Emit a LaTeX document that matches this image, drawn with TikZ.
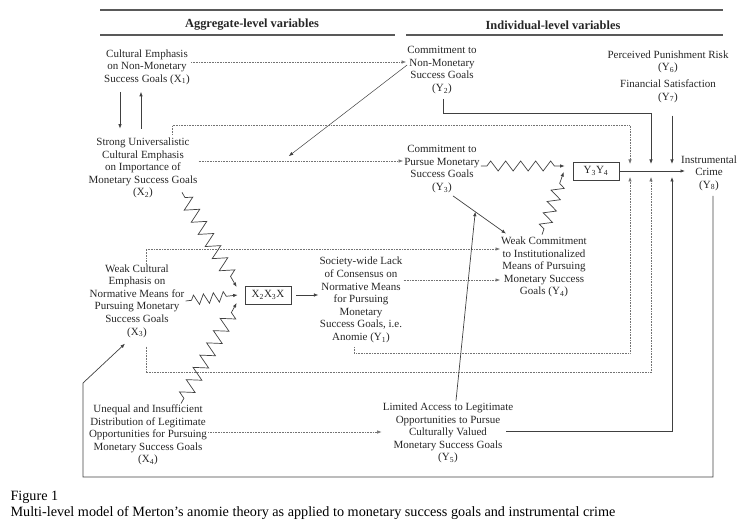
\documentclass[tikz,border=0pt]{standalone}
\usepackage{fontspec}
\setmainfont{Liberation Serif}
\usetikzlibrary{arrows.meta,calc,decorations.pathmorphing,positioning}

\begin{document}
\begin{tikzpicture}[x=1pt, y=-1pt,
  var/.style = {align=center, inner sep=1pt, font=\fontsize{11}{12.6}\selectfont, text=black!85},
  prodbox/.style = {draw=black!75, line width=0.7pt, minimum width=46pt, minimum height=18pt, inner sep=1pt, font=\fontsize{11}{12.6}\selectfont, text=black!85},
  head/.style = {font=\bfseries\fontsize{12.4}{14}\selectfont, text=black!85},
  rule/.style = {draw=black!65, line width=1.1pt},
  solidarrow/.style = {draw=black!75, line width=0.7pt, -{Latex[length=4.5pt,width=3.5pt]}},
  dotarrow/.style = {draw=black!55, densely dotted, line width=0.6pt, -{Latex[length=4.5pt,width=3.5pt]}},
  zz/.style 2 args = {decorate, decoration={zigzag, segment length=#1, amplitude=#2, pre length=6pt, post length=9pt}}]
\useasboundingbox (0,0) rectangle (742,526);
\draw[rule] (100,10) -- (723,10);
\draw[rule] (100,35) -- (395,35);
\draw[rule] (406,35) -- (723,35);
\node[head] (agg) at (252,25) {Aggregate-level variables};
\node[head] (ind) at (553,25) {Individual-level variables};
\node[var] (x1) at (147,67) {Cultural Emphasis\\on Non-Monetary\\Success Goals (X\textsubscript{1})};
\node[var] (x2) at (143,168) {Strong Universalistic\\Cultural Emphasis\\on Importance of\\Monetary Success Goals\\(X\textsubscript{2})};
\node[var] (x3) at (137,301) {Weak Cultural\\Emphasis on\\Normative Means for\\Pursuing Monetary\\Success Goals\\(X\textsubscript{3})};
\node[var] (x4) at (148,435) {Unequal and Insufficient\\Distribution of Legitimate\\Opportunities for Pursuing\\Monetary Success Goals\\(X\textsubscript{4})};
\node[prodbox] (box1) at (268,295) {X\textsubscript{2}X\textsubscript{3}X};
\node[var] (y1) at (361,300) {Society-wide Lack\\of Consensus on\\Normative Means\\for Pursuing\\Monetary\\Success Goals, i.e.\\Anomie (Y\textsubscript{1})};
\node[var] (y2) at (442,70) {Commitment to\\Non-Monetary\\Success Goals\\(Y\textsubscript{2})};
\node[var] (y3) at (442,169) {Commitment to\\Pursue Monetary\\Success Goals\\(Y\textsubscript{3})};
\node[var] (y4) at (544,267) {Weak Commitment\\to Institutionalized\\Means of Pursuing\\Monetary Success\\Goals (Y\textsubscript{4})};
\node[var] (y5) at (448,433) {Limited Access to Legitimate\\Opportunities to Pursue\\Culturally Valued\\Monetary Success Goals\\(Y\textsubscript{5})};
\node[var] (y6) at (668,62) {Perceived Punishment Risk\\(Y\textsubscript{6})};
\node[var] (y7) [below=4pt of y6] {Financial Satisfaction\\(Y\textsubscript{7})};
\node[prodbox] (box2) at (596,171) {Y\textsubscript{3}Y\textsubscript{4}};
\node[var] (y8) at (709,173) {Instrumental\\Crime\\(Y\textsubscript{8})};
\node[anchor=west, font=\fontsize{14.2}{16}\selectfont] (fig) at (7,497) {Figure 1};
\node[anchor=west, font=\fontsize{14.2}{16}\selectfont] (cap) at (7,513) {Multi-level model of Merton’s anomie theory as applied to monetary success goals and instrumental crime};
\coordinate (c1) at (630,171);
\coordinate (c2) at (651,171);
\coordinate (c3) at (672,171);
\coordinate (fb1) at (83,477);
\coordinate (fb2) at (83,383);
\draw[solidarrow] ($(x1.south)+(-27,6)$) -- ($(x2.north)+(-23,-8)$);
\draw[solidarrow] ($(x2.north)+(-2,-8)$) -- ($(x1.south)+(-6,6)$);
\draw[dotarrow] ($(x1.east)+(0,-5)$) coordinate (s1) -- (s1 -| y2.west);
\draw[dotarrow] ($(x2.east)+(0,-7)$) coordinate (s2) -- coordinate[pos=0.41] (m1) (s2 -| y3.west);
\draw[solidarrow, line width=0.5pt, shorten >=8pt] ($(y2.west)+(1,-5)$) -- (m1);
\draw[dotarrow] ($(x2.north)+(29,-2)$) -- ++(0,-9) -| ($(c1)+(0,-7)$);
\draw[solidarrow] ($(y2.south)+(1,4)$) -- ++(0,14) -| ($(c2)+(0,-7)$);
\draw[solidarrow] ($(y7.south)+(4,12)$) -- ($(c3)+(0,-7)$);
\draw[solidarrow] (box2.east) -- ($(box2.east -| y8.west)+(5,0)$);
\draw[dotarrow] ($(y1.south)+(-7,3)$) -- ++(0,6) -| ($(c1)+(0,6)$);
\draw[dotarrow] ($(x3.south)+(9,8)$) -- ++(0,26) -| ($(c2)+(0,6)$);
\draw[solidarrow] ($(y5.east)+(-8,-2)$) -| ($(c3)+(0,6)$);
\draw[dotarrow] ($(x4.east)+(0,-3)$) coordinate (s4) -- (s4 -| y5.west);
\draw[dotarrow] ($(x3.north)+(9,0)$) |- ($(y4.west)+(0,-18)$);
\draw[dotarrow] ($(y1.east)+(0,-20)$) coordinate (s3) -- (s3 -| y4.west);
\draw[solidarrow] ($(box1.east)+(5,0)$) -- (box1.east -| y1.west);
\draw[solidarrow] ($(y3.south)+(11,2)$) -- coordinate[pos=0.42] (m2) ($(y4.north west)+(6,-2)$);
\draw[solidarrow] ($(y5.north)+(8,-1)$) -- (m2);
\draw[solidarrow, zz={14pt}{7pt}] ($(x2.south)+(39,-7)$) -- ($(box1.west)+(-8,-8)$);
\draw[solidarrow, zz={10pt}{5pt}] (x3.east) -- ($(box1.west)+(-7,0)$);
\draw[solidarrow, zz={14pt}{7pt}] ($(x4.north)+(33,0)$) -- ($(box1.west)+(-8,8)$);
\draw[solidarrow, zz={15pt}{5pt}] ($(y3.east)+(0,-3)$) -- ($(box2.west)+(-8,-5)$);
\draw[solidarrow, zz={12pt}{6pt}] ($(y4.north)+(-2,-1)$) -- ($(box2.west)+(-9,1)$);
\draw[solidarrow] ($(y8.south)+(4,4)$) |- (fb1) -- (fb2) -- ($(x3.south)+(-12,5)$);
\end{tikzpicture}
\end{document}
